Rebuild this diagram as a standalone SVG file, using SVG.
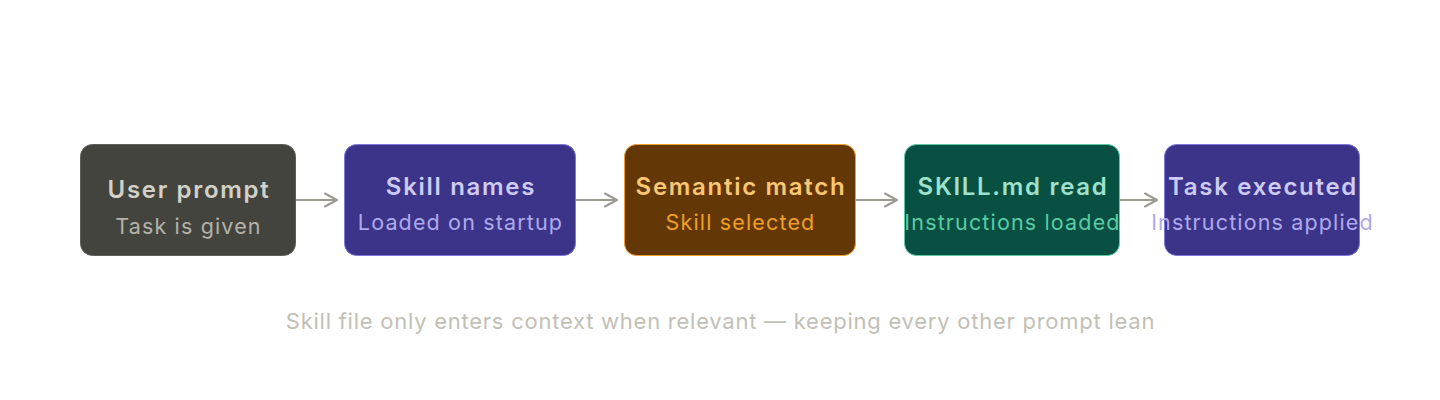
<svg xmlns="http://www.w3.org/2000/svg" width="1440" height="400" viewBox="0 0 1440 400">
<defs>
<marker id="arr" viewBox="0 0 14 16" refX="13" refY="8" markerWidth="14" markerHeight="16" markerUnits="userSpaceOnUse" orient="auto">
<path d="M1 1.5 L13 8 L1 14.5" fill="none" stroke="#9c9a92" stroke-width="2" stroke-linecap="round" stroke-linejoin="round"/>
</marker>
<style>
text{font-family:Inter,"Liberation Sans",sans-serif;text-anchor:middle}
.t{font-weight:600;font-size:24px;letter-spacing:1.7px}
.s{font-weight:400;font-size:21.5px;letter-spacing:1.15px}
.f{font-weight:400;font-size:22px;letter-spacing:0.75px;fill:#c2c0b6}
.c{stroke:#9c9a92;stroke-width:2;fill:none}
rect.n{stroke-width:1}
</style>
</defs>
<rect width="1440" height="400" fill="#ffffff"/>
<g id="connectors">
<path class="c" d="M296 200 H337" marker-end="url(#arr)"/>
<path class="c" d="M576 200 H617" marker-end="url(#arr)"/>
<path class="c" d="M856 200 H897" marker-end="url(#arr)"/>
<path class="c" d="M1120 200 H1157" marker-end="url(#arr)"/>
</g>
<g id="user-prompt">
<rect class="n" x="80.5" y="144.5" width="215" height="111" rx="12" fill="#44443e" stroke="#5f5e5a"/>
<text class="t" x="189" y="198" fill="#d3d1c7">User prompt</text>
<text class="s" x="188.5" y="234" fill="#b4b2a9">Task is given</text>
</g>
<g id="skill-names">
<rect class="n" x="344.5" y="144.5" width="231" height="111" rx="12" fill="#3c3489" stroke="#7f77dd"/>
<text class="t" x="461" y="195" fill="#cecbf6">Skill names</text>
<text class="s" x="460.5" y="230" fill="#afa9ec">Loaded on startup</text>
</g>
<g id="semantic-match">
<rect class="n" x="624.5" y="144.5" width="231" height="111" rx="12" fill="#633806" stroke="#ef9f27"/>
<text class="t" x="741" y="195" fill="#fac775">Semantic match</text>
<text class="s" x="740.5" y="230" fill="#ef9f27">Skill selected</text>
</g>
<g id="skill-md-read">
<rect class="n" x="904.5" y="144.5" width="215" height="111" rx="12" fill="#085041" stroke="#5dcaa5"/>
<text class="t" x="1013" y="195" fill="#9fe1cb">SKILL.md read</text>
<text class="s" x="1012.5" y="230" fill="#5dcaa5">Instructions loaded</text>
</g>
<g id="task-executed">
<rect class="n" x="1164.5" y="144.5" width="195" height="111" rx="12" fill="#3c3489" stroke="#7f77dd"/>
<text class="t" x="1263" y="195" fill="#cecbf6">Task executed</text>
<text class="s" x="1262.5" y="230" fill="#afa9ec">Instructions applied</text>
</g>
<text class="f" x="720.5" y="328.5">Skill file only enters context when relevant — keeping every other prompt lean</text>
</svg>
